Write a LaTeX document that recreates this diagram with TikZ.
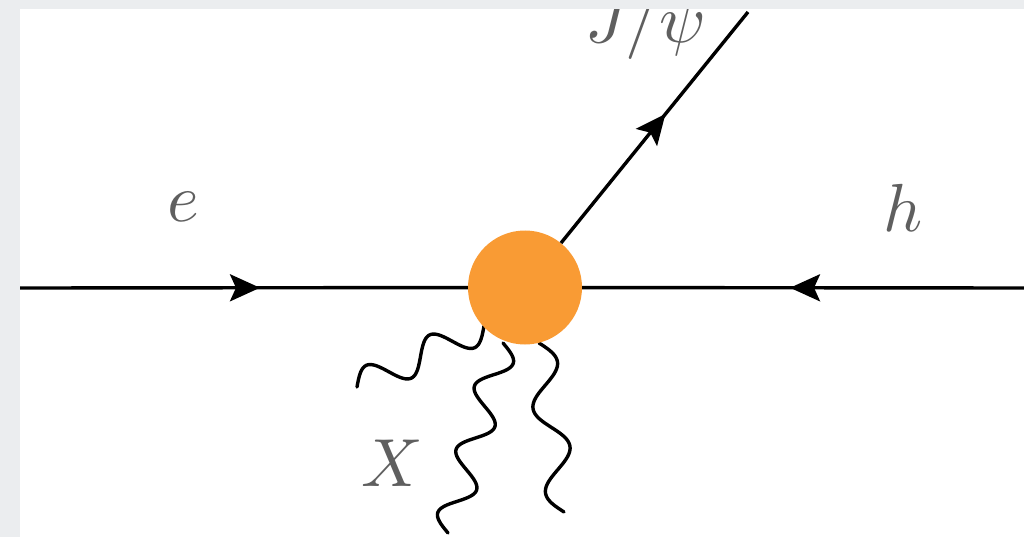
\documentclass[tikz,border=0pt]{standalone}
\usepackage{graphicx}
\usetikzlibrary{arrows.meta,decorations.markings}
\definecolor{blob}{RGB}{249,155,52}
\definecolor{band}{RGB}{235,237,239}
\definecolor{lab}{RGB}{95,95,95}
\newcommand{\biglab}[1]{\scalebox{6.8}{$#1$}}
\tikzset{
  fermion/.style={line width=3.4pt},
  photon/.style={line width=3.4pt, line cap=round},
  arrowat/.style={postaction={decorate}, decoration={markings, mark=at position #1 with {\arrow{Stealth[length=30pt,width=27pt,inset=6pt]}}}},
  plabel/.style={text=lab, inner sep=0pt}
}
\begin{document}
\begin{tikzpicture}[x=1pt,y=-1pt]
\useasboundingbox (0,0) rectangle (1024,537);
\fill[white] (0,0) rectangle (1024,537);
\coordinate (L) at (20,288);
\coordinate (R) at (1024,288);
\coordinate (J) at (748,12);
\coordinate (S1) at (484,326);
\coordinate (S2) at (503,343);
\coordinate (S3) at (539,343);
% photons: sine waves from the blob edge (S) towards their free ends
\draw[photon, shift={(S1)}, rotate=205.66] plot[domain=0:140.9, samples=120, smooth] (\x, {-15.5*sin(5.1100*\x)});
\draw[photon, shift={(S2)}, rotate=253.86] plot[domain=0:197.8, samples=160, smooth] (\x, {-15.5*sin(5.4603*\x)});
\draw[photon, shift={(S3)}, rotate=278.41] plot[domain=0:170.8, samples=140, smooth] (\x, {-15.5*sin(4.2155*\x)});
\node[circle, fill=blob, minimum size=114pt, inner sep=0pt] (B) at (525,287.5) {};
\draw[fermion, arrowat=240pt] (L) -- (B);
\draw[fermion, arrowat=234pt] (R) -- (B);
\draw[fermion, arrowat=166pt] (B) -- (J);
\node[plabel, anchor=base] (le) at (183,222) {\biglab{e}};
\node[plabel, anchor=base] (lh) at (903,232) {\biglab{h}};
\node[plabel, anchor=base] (lx) at (392,486) {\biglab{X}};
\node[plabel, anchor=base] (lj) at (646,43) {\biglab{J/\psi}};
\fill[band] (0,0) rectangle (1024,9);
\fill[band] (0,0) rectangle (20,537);
\end{tikzpicture}
\end{document}
